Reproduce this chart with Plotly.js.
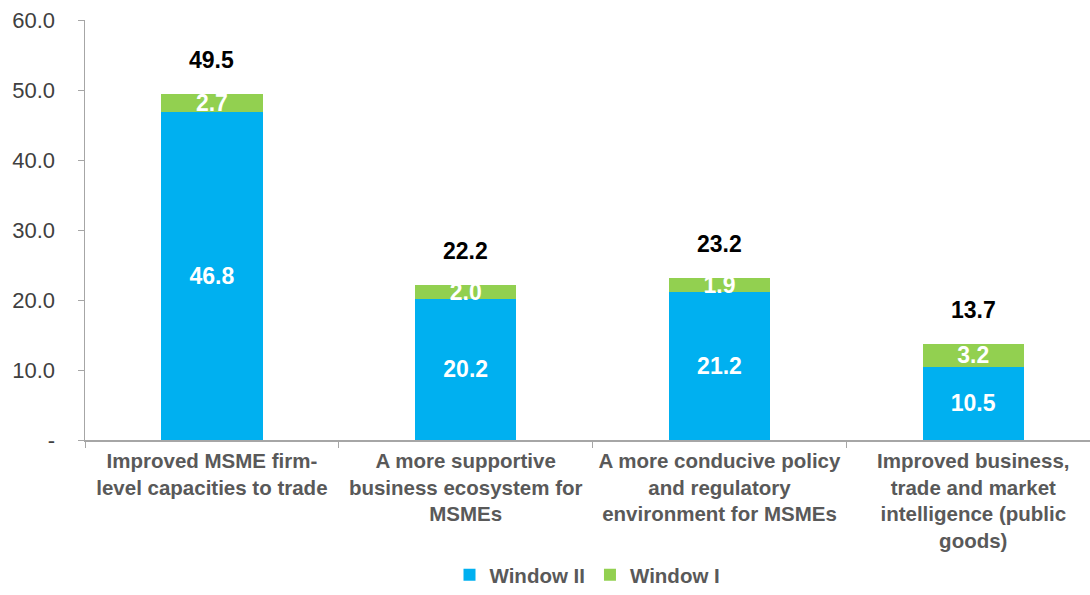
<!DOCTYPE html>
<html>
<head>
<meta charset="utf-8">
<script src="https://cdn.plot.ly/plotly-3.0.1.min.js"></script>
<style>html,body{margin:0;padding:0;background:#fff;}#chart{width:1090px;height:595px;}</style>
</head>
<body>
<div id="chart"></div>
<script>
var categories = [
  "Improved MSME firm-<br>level capacities to trade",
  "A more supportive<br>business ecosystem for<br>MSMEs",
  "A more conducive policy<br>and regulatory<br>environment for MSMEs",
  "Improved business,<br>trade and market<br>intelligence (public<br>goods)"
];
var windowII = [46.8, 20.2, 21.2, 10.5];
var windowI = [2.7, 2.0, 1.9, 3.2];
var totals = [49.5, 22.2, 23.2, 13.7];
var yTickVals = [0, 10, 20, 30, 40, 50, 60];
var yTickText = ["-", "10.0", "20.0", "30.0", "40.0", "50.0", "60.0"];

var FONT = "Liberation Sans, Arial, sans-serif";
var labelFont = {family: FONT, size: 23, color: "#ffffff", weight: "bold"};

var traces = [
  {
    type: "bar", name: "Window II", x: categories, y: windowII,
    marker: {color: "#00B0F0"},
    text: windowII.map(function(v){return v.toFixed(1);}),
    textposition: "inside", insidetextanchor: "middle", constraintext: "none",
    textfont: labelFont, hoverinfo: "skip", cliponaxis: false
  },
  {
    type: "bar", name: "Window I", x: categories, y: windowI,
    marker: {color: "#92D050"},
    text: windowI.map(function(v){return v.toFixed(1);}),
    textposition: "inside", insidetextanchor: "middle", constraintext: "none",
    textfont: labelFont, hoverinfo: "skip", cliponaxis: false
  }
];

var annotations = categories.map(function(c, i){
  return {
    x: c, y: totals[i], xref: "x", yref: "y",
    text: "<b>" + totals[i].toFixed(1) + "</b>",
    showarrow: false, yanchor: "bottom", yshift: 19,
    font: {family: FONT, size: 23, color: "#000000"}
  };
});

var layout = {
  width: 1090, height: 595,
  margin: {l: 85, r: 0, t: 20, b: 155},
  barmode: "stack", bargap: 0.6,
  paper_bgcolor: "#ffffff", plot_bgcolor: "#ffffff",
  showlegend: true,
  legend: {
    orientation: "h", x: 0.5, xanchor: "center", y: -0.322, yanchor: "middle",
    font: {family: FONT, size: 20.5, color: "#595959", weight: "bold"},
    traceorder: "normal", itemwidth: 30
  },
  xaxis: {
    type: "category", range: [-0.5, 3.46], automargin: false,
    showline: true, linecolor: "#a6a6a6", linewidth: 1.5,
    ticks: "outside", tickson: "boundaries", ticklen: 6, tickcolor: "#a6a6a6",
    showgrid: false, zeroline: false,
    tickfont: {family: FONT, size: 20.5, color: "#595959", weight: "bold"},
    ticklabelstandoff: 2,
    tickangle: 0
  },
  yaxis: {
    range: [0, 60], tickvals: yTickVals, ticktext: yTickText, automargin: false,
    showline: true, linecolor: "#a6a6a6", linewidth: 1.5,
    ticks: "outside", ticklen: 6, tickcolor: "#a6a6a6",
    ticklabelstandoff: 18,
    showgrid: false, zeroline: false,
    tickfont: {family: FONT, size: 22, color: "#404040"}
  },
  annotations: annotations
};

Plotly.newPlot("chart", traces, layout, {displayModeBar: false, staticPlot: true});
</script>
</body>
</html>
